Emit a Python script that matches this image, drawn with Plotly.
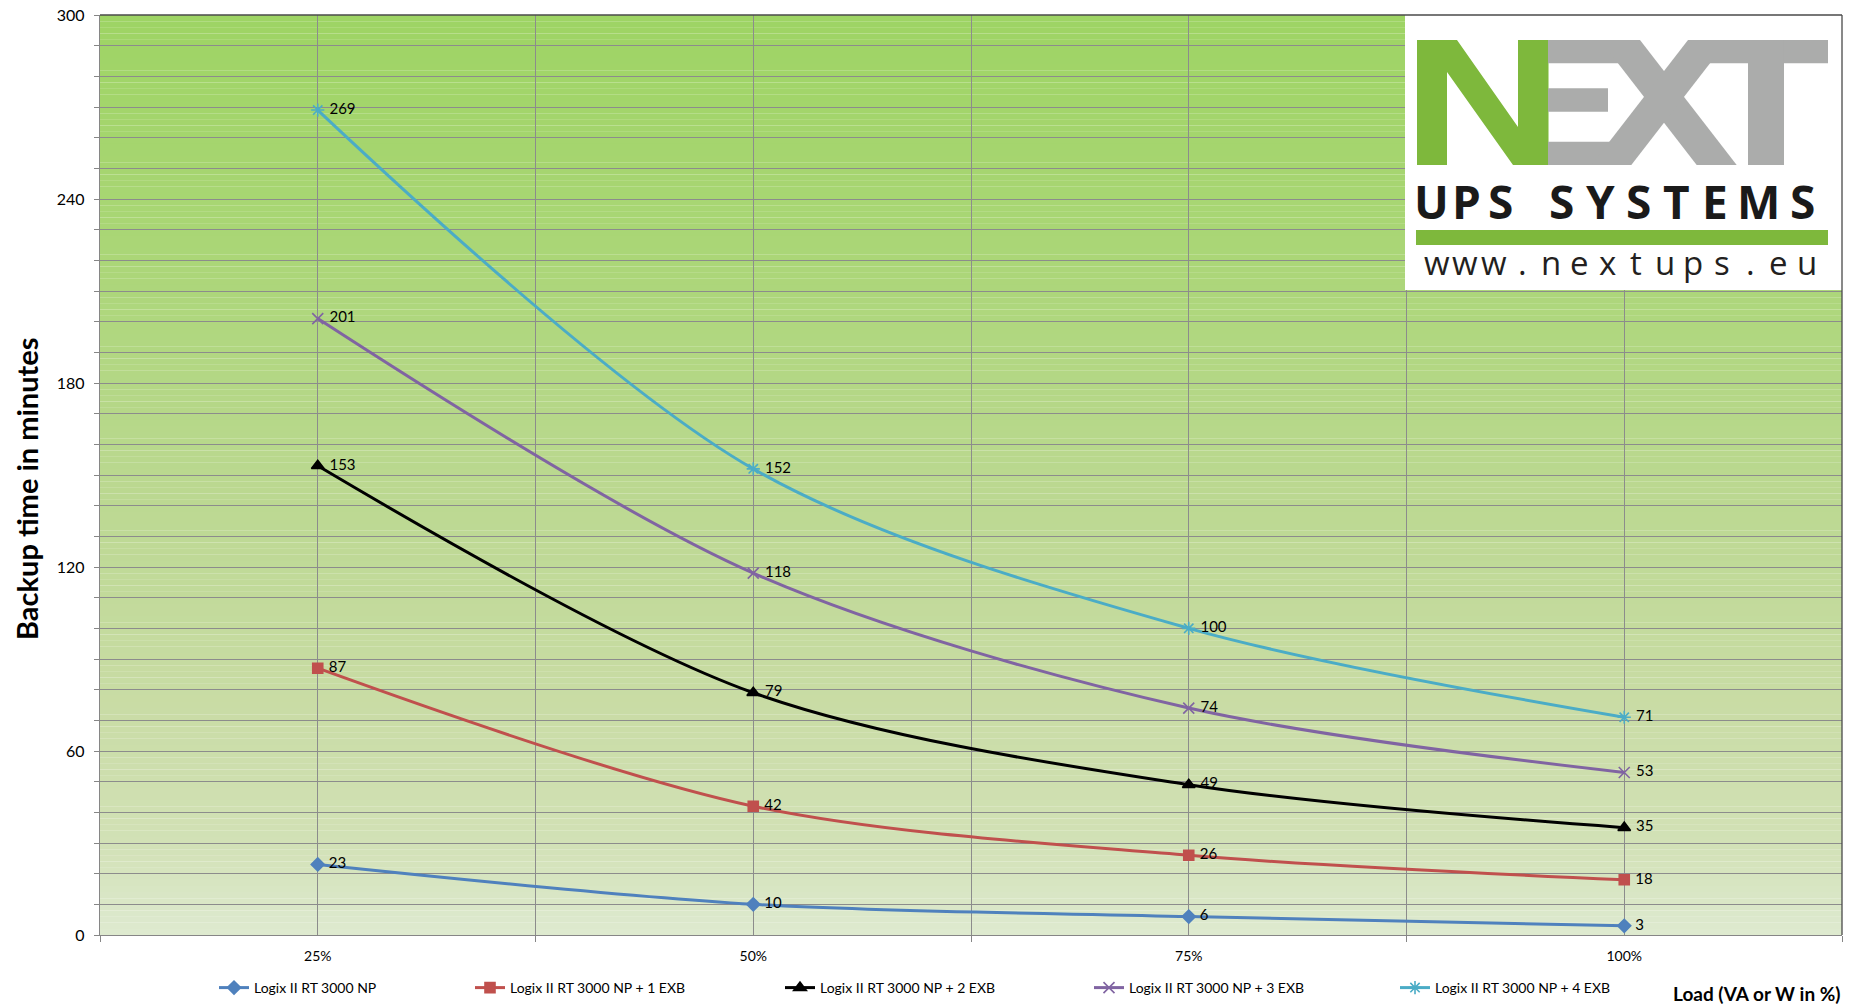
import plotly.graph_objects as go

# ---------------- data ----------------
loads = ["25%", "50%", "75%", "100%"]
series_names = [
    "Logix II RT 3000 NP",
    "Logix II RT 3000 NP + 1 EXB",
    "Logix II RT 3000 NP + 2 EXB",
    "Logix II RT 3000 NP + 3 EXB",
    "Logix II RT 3000 NP + 4 EXB",
]
np0 = [23, 10, 6, 3]
exb1 = [87, 42, 26, 18]
exb2 = [153, 79, 49, 35]
exb3 = [201, 118, 74, 53]
exb4 = [269, 152, 100, 71]
y_ticks = [0, 60, 120, 180, 240, 300]

# ---------------- styles ----------------
colors = ["#4F81BD", "#C0504D", "#000000", "#8064A2", "#4BACC6"]
symbols = ["diamond", "square", "triangle-up", "x-thin-open", "asterisk-open"]
msizes = [10, 10, 11, 11, 11]
FONT = "Lato"

# body margin is removed by post_script, so the figure starts at the page corner
OFF = 0
SW, SH = 1849, 1008
W, H = SW - OFF, SH - OFF
L, R, T, B = 100 - OFF, 7, 15 - OFF, 73
PW, PH = W - L - R, H - T - B


def px(x):  # screen x -> paper
    return (x - OFF - L) / PW


def py(y):  # screen y -> paper
    return 1 - (y - OFF - T) / PH


xpos = list(range(len(loads)))

fig = go.Figure()
all_series = [np0, exb1, exb2, exb3, exb4]
legend_ids = ["legend", "legend2", "legend3", "legend4", "legend5"]
for i, (name, vals) in enumerate(zip(series_names, all_series)):
    fig.add_trace(go.Scatter(
        x=xpos, y=vals, name=name,
        mode="lines+markers+text",
        line=dict(color=colors[i], width=3, shape="spline", smoothing=0.9),
        marker=dict(symbol=symbols[i], size=msizes[i], color=colors[i],
                    line=dict(color=colors[i], width=1.6)),
        text=["\u00a0" + str(v) for v in vals], textposition="middle right",
        textfont=dict(family=FONT, size=15, color="#000000"),
        legend=legend_ids[i], hoverinfo="skip", cliponaxis=False,
    ))

shapes = []
# gradient background (top -> bottom)
stops = [(0.0, (158, 212, 100)), (0.25, (170, 214, 118)), (0.5, (186, 216, 143)),
         (0.75, (201, 220, 165)), (0.9, (210, 225, 182)), (1.0, (222, 234, 208))]


def grad(f):
    for (f0, c0), (f1, c1) in zip(stops[:-1], stops[1:]):
        if f0 <= f <= f1:
            t = (f - f0) / (f1 - f0)
            return tuple(round(a + (b - a) * t) for a, b in zip(c0, c1))
    return stops[-1][1]


NB = 150
for k in range(NB):
    f = (k + 0.5) / NB
    c = grad(f)
    shapes.append(dict(type="rect", xref="paper", yref="paper", layer="below",
                       x0=0, x1=1, y0=1 - (k + 1.02) / NB, y1=1 - k / NB,
                       fillcolor="rgb(%d,%d,%d)" % c, line=dict(width=0)))

# logo box
shapes.append(dict(type="rect", xref="paper", yref="paper", layer="above",
                   x0=px(1405), x1=1, y0=py(290), y1=1,
                   fillcolor="white", line=dict(width=0)))


def poly(pts, color):
    path = "M " + " L ".join("%.5f,%.5f" % (px(x), py(y)) for x, y in pts) + " Z"
    return dict(type="path", xref="paper", yref="paper", layer="above", path=path,
                fillcolor=color, line=dict(width=0))


GREEN = "#7EB83C"
GRAY = "#ABACAB"
shapes.append(poly([(1417, 40), (1457, 40), (1518, 127), (1518, 40), (1548.5, 40),
                    (1548.5, 165), (1513, 165), (1447, 72), (1447, 165), (1417, 165)], GREEN))
shapes.append(poly([(1548, 40), (1624, 40), (1624, 63.3), (1548, 63.3)], GRAY))
shapes.append(poly([(1548, 88.3), (1608, 88.3), (1608, 111.7), (1548, 111.7)], GRAY))
shapes.append(poly([(1548, 141.7), (1624, 141.7), (1624, 165), (1548, 165)], GRAY))
shapes.append(poly([(1600, 40), (1640, 40), (1736.7, 165), (1696.7, 165)], GRAY))
shapes.append(poly([(1688, 40), (1728, 40), (1631.3, 165), (1591.3, 165)], GRAY))
shapes.append(poly([(1700, 40), (1828, 40), (1828, 63.3), (1700, 63.3)], GRAY))
shapes.append(poly([(1748, 40), (1784, 40), (1784, 165), (1748, 165)], GRAY))
shapes.append(poly([(1416, 230), (1828, 230), (1828, 245), (1416, 245)], GREEN))

# plot border top & right
shapes.append(dict(type="line", xref="paper", yref="paper", layer="above",
                   x0=0, x1=1, y0=1, y1=1, line=dict(color="#4A4A4A", width=1.3)))
shapes.append(dict(type="line", xref="paper", yref="paper", layer="above",
                   x0=1, x1=1, y0=0, y1=1, line=dict(color="#4A4A4A", width=1.3)))

annotations = []
ups = "UPS SYSTEMS"
ups_x = [1431.7, 1466.7, 1500, None, 1561.7, 1600, 1638.3, 1676.7, 1715, 1758.3, 1802.7]
for ch, xx in zip(ups, ups_x):
    if xx is None:
        continue
    annotations.append(dict(text="<b>%s</b>" % ch, x=px(xx), y=py(201), xref="paper", yref="paper",
                            showarrow=False, xanchor="center", yanchor="middle",
                            font=dict(family="Open Sans", size=46, color="#1A1A1A")))
www = "www.nextups.eu"
for i, ch in enumerate(www):
    annotations.append(dict(text=ch, x=px(1436.7 + 28.5 * i), y=py(262), xref="paper", yref="paper",
                            showarrow=False, xanchor="center", yanchor="middle",
                            font=dict(family="Open Sans", size=33, color="#231F20")))

annotations.append(dict(text="<b>Load (VA or W in %)</b>", x=px(1843), y=py(994),
                        xref="paper", yref="paper", showarrow=False,
                        xanchor="right", yanchor="middle",
                        font=dict(family=FONT, size=19, color="#000000")))
annotations.append(dict(text="<b>Backup time in minutes</b>", x=px(26), y=py(489),
                        xref="paper", yref="paper", showarrow=False, textangle=-90,
                        xanchor="center", yanchor="middle",
                        font=dict(family=FONT, size=29, color="#000000")))

GRID = "#8C8C8C"
layout = dict(
    width=W, height=H,
    margin=dict(l=L, r=R, t=T, b=B, autoexpand=False),
    paper_bgcolor="white", plot_bgcolor="rgba(0,0,0,0)",
    font=dict(family=FONT, size=14, color="#000000"),
    showlegend=True,
    xaxis=dict(range=[-0.5, len(loads) - 0.5], tickvals=xpos, ticktext=loads,
               showgrid=True, gridcolor=GRID, gridwidth=1, ticks="",
               showline=True, linecolor="#868686", linewidth=1.3, zeroline=False,
               ticklabelstandoff=8, tickfont=dict(family=FONT, size=14),
               ticklabeloverflow="allow",
               minor=dict(tick0=-0.5, dtick=1, showgrid=True, gridcolor=GRID, gridwidth=1,
                          ticks="outside", ticklen=6, tickcolor="#868686"),
               fixedrange=True),
    yaxis=dict(range=[0, 300], tickvals=y_ticks, showgrid=True, gridcolor=GRID, gridwidth=1,
               ticks="outside", ticklen=5, tickcolor="#868686",
               showline=True, linecolor="#868686", linewidth=1.3, zeroline=False,
               ticklabelstandoff=6, tickfont=dict(family=FONT, size=16),
               ticklabeloverflow="allow",
               minor=dict(dtick=10, showgrid=True, gridcolor=GRID, gridwidth=1,
                          ticks="outside", ticklen=5, tickcolor="#868686"),
               fixedrange=True),
    shapes=shapes, annotations=annotations,
)
legend_text_x = [256, 512, 822, 1131, 1437]
for lid, tx in zip(legend_ids, legend_text_x):
    layout[lid] = dict(orientation="h", x=px(tx - 42), y=py(988), xanchor="left", yanchor="middle",
                       bgcolor="rgba(0,0,0,0)", borderwidth=0, itemwidth=30,
                       font=dict(family=FONT, size=14, color="#000000"))
fig.update_layout(**layout)
fig.write_html("out.html", config={"displayModeBar": False},
               post_script="document.body.style.margin='0px';document.body.style.overflow='hidden';")
